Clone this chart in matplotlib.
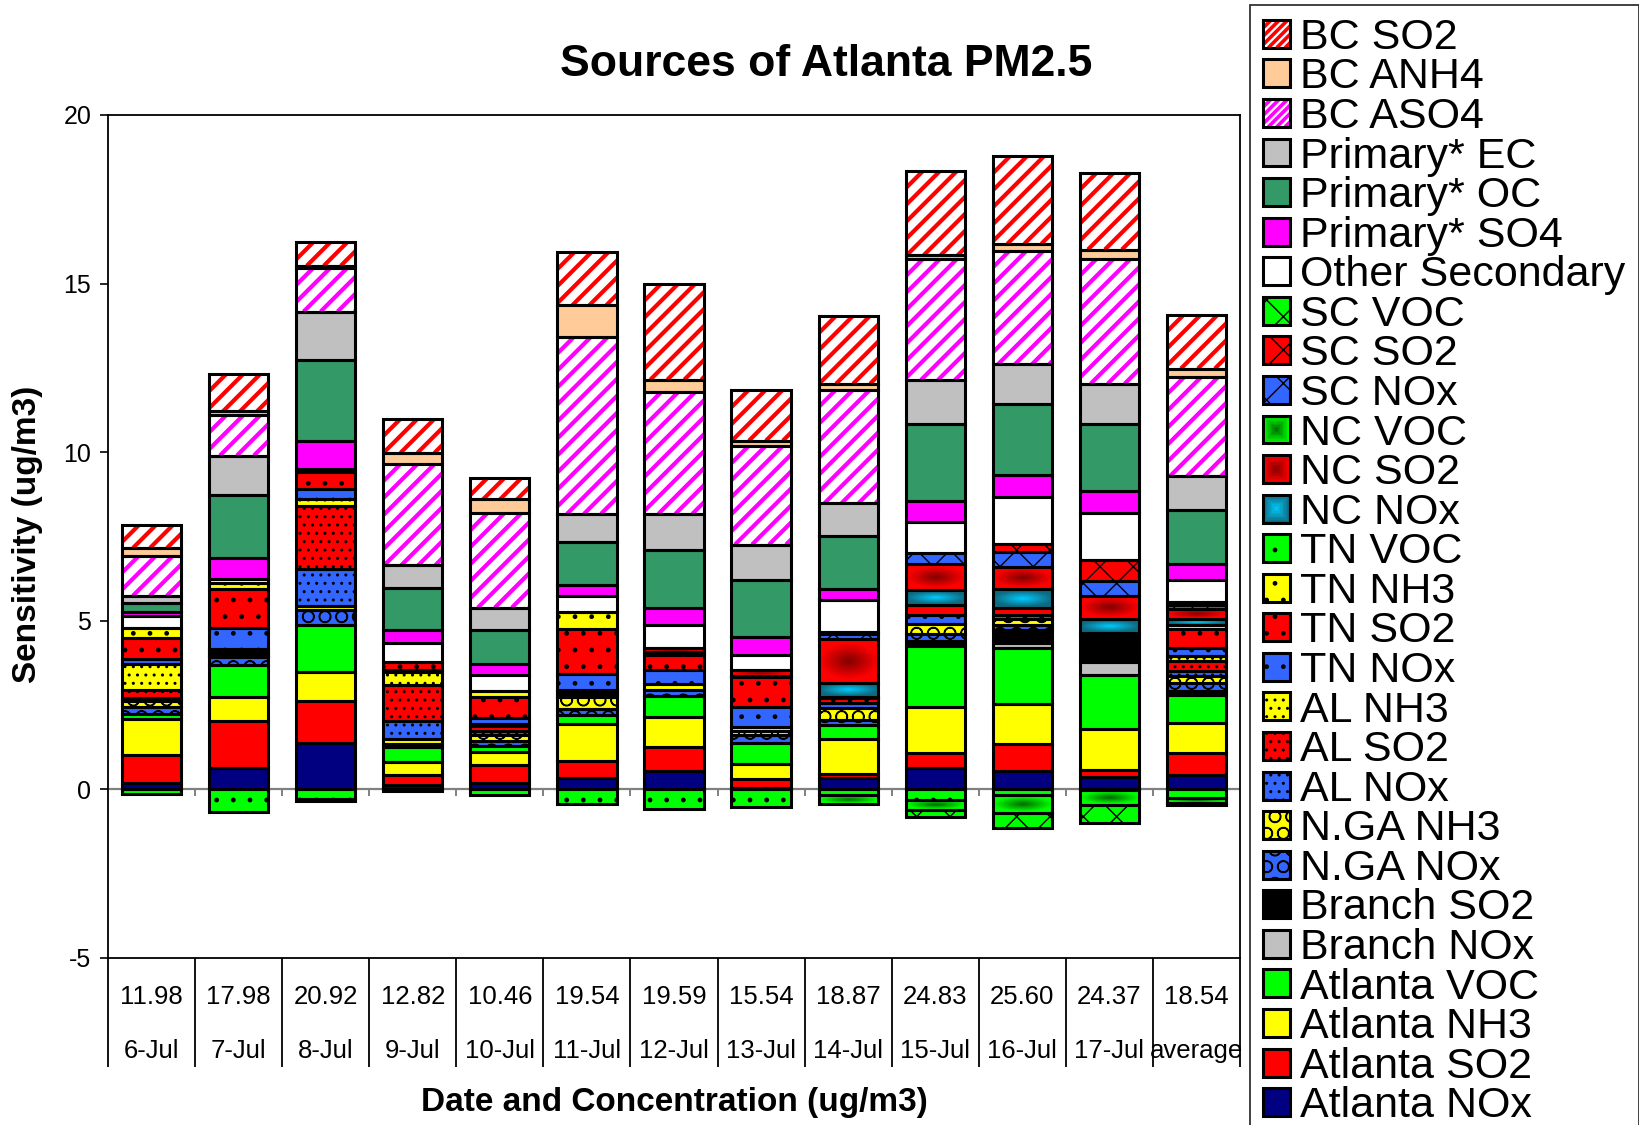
import numpy as np
import matplotlib
matplotlib.use("Agg")
import matplotlib.pyplot as plt
from matplotlib.patches import Patch, Rectangle
from matplotlib.collections import LineCollection
from matplotlib.legend_handler import HandlerTuple, HandlerBase

plt.rcParams['font.family'] = ['Liberation Sans', 'DejaVu Sans']
plt.rcParams['axes.unicode_minus'] = False

# categories
dates = ["6-Jul", "7-Jul", "8-Jul", "9-Jul", "10-Jul", "11-Jul", "12-Jul",
         "13-Jul", "14-Jul", "15-Jul", "16-Jul", "17-Jul", "average"]
concentrations = ["11.98", "17.98", "20.92", "12.82", "10.46", "19.54", "19.59",
                  "15.54", "18.87", "24.83", "25.60", "24.37", "18.54"]

# sensitivities (ug/m3), stacked bottom to top
atlanta_nox = [0.20, 0.64, 1.38, 0.12, 0.20, 0.33, 0.55, 0.05, 0.33, 0.63, 0.56, 0.36, 0.43]
atlanta_so2 = [0.82, 1.40, 1.25, 0.31, 0.51, 0.50, 0.70, 0.26, 0.13, 0.45, 0.80, 0.23, 0.64]
atlanta_nh3 = [1.06, 0.71, 0.84, 0.37, 0.39, 1.12, 0.90, 0.45, 1.03, 1.37, 1.17, 1.19, 0.91]
atlanta_voc = [0.15, 0.93, 1.40, 0.46, 0.20, 0.26, 0.63, 0.63, 0.42, 1.79, 1.66, 1.60, 0.82]
branch_nox = [0, 0, 0, 0, 0, 0, 0, 0, 0, 0, 0.16, 0.40, 0]
branch_so2 = [0, 0, 0, 0, 0, 0, 0, 0, 0, 0.17, 0.37, 0.85, 0.13]
nga_nox = [0.20, 0.24, 0.45, 0.10, 0.13, 0.17, 0.18, 0.21, 0.15, 0.19, 0.16, 0, 0.22]
nga_nh3 = [0.20, 0.03, 0.11, 0.12, 0.18, 0.37, 0, 0.13, 0.35, 0.30, 0.17, 0, 0.20]
al_nox = [0.08, 0.10, 1.12, 0.55, 0.13, 0.05, 0, 0, 0, 0, 0, 0, 0.15]
al_so2 = [0.24, 0.05, 1.85, 1.07, 0.15, 0.08, 0, 0, 0, 0, 0, 0, 0.30]
al_nh3 = [0.77, 0.05, 0.22, 0.39, 0.05, 0.07, 0.18, 0.13, 0, 0, 0, 0, 0.17]
tn_nox = [0.14, 0.65, 0.30, 0.05, 0.17, 0.47, 0.40, 0.57, 0.15, 0.26, 0.12, 0, 0.23]
tn_so2 = [0.62, 1.14, 0.48, 0.25, 0.63, 1.35, 0.44, 0.89, 0.15, 0.32, 0.21, 0, 0.56]
tn_nh3 = [0.30, 0.17, 0, 0, 0.19, 0.50, 0.10, 0.05, 0.03, 0, 0, 0, 0.13]
tn_voc = [-0.13, -0.67, -0.28, -0.05, -0.18, -0.42, -0.59, -0.52, -0.17, -0.30, -0.17, -0.03, -0.26]
nc_nox = [0, 0, 0, 0, 0, 0, 0, 0, 0.43, 0.44, 0.56, 0.41, 0.15]
nc_so2 = [0, 0, 0, 0, 0, 0, 0.10, 0.17, 1.29, 0.75, 0.66, 0.69, 0.32]
nc_voc = [0, 0, -0.05, 0, 0, 0, 0, 0, -0.26, -0.30, -0.53, -0.44, -0.15]
sc_nox = [0, 0, 0, 0, 0, 0, 0, 0, 0.15, 0.35, 0.44, 0.46, 0.12]
sc_so2 = [0, 0, 0, 0, 0, 0, 0, 0, 0.07, 0, 0.23, 0.60, 0.08]
sc_voc = [0, 0, 0, 0, 0, 0, 0, 0, 0, -0.22, -0.44, -0.53, -0.05]
other_secondary = [0.37, 0.13, 0.10, 0.56, 0.45, 0.47, 0.71, 0.46, 0.93, 0.90, 1.39, 1.42, 0.64]
primary_so4 = [0.10, 0.62, 0.83, 0.37, 0.34, 0.31, 0.49, 0.52, 0.32, 0.64, 0.66, 0.64, 0.49]
primary_oc = [0.29, 1.86, 2.39, 1.25, 1.00, 1.29, 1.72, 1.69, 1.59, 2.27, 2.10, 1.99, 1.59]
primary_ec = [0.20, 1.18, 1.45, 0.67, 0.67, 0.83, 1.07, 1.05, 0.97, 1.31, 1.19, 1.19, 1.01]
bc_aso4 = [1.19, 1.19, 1.29, 3.00, 2.80, 5.26, 3.62, 2.92, 3.35, 3.58, 3.37, 3.71, 2.93]
bc_anh4 = [0.23, 0.12, 0.07, 0.34, 0.41, 0.93, 0.36, 0.16, 0.19, 0.12, 0.20, 0.27, 0.26]
bc_so2 = [0.68, 1.10, 0.69, 1.00, 0.63, 1.57, 2.85, 1.50, 2.00, 2.49, 2.59, 2.28, 1.60]

GREEN, RED, BLUE, YELLOW = '#00FF00', '#FF0000', '#3366FF', '#FFFF00'

# (label, values, facecolor, hatch, stripe colour, gradient centre)
series = [
    ("Atlanta NOx", atlanta_nox, '#000080', None, None, None),
    ("Atlanta SO2", atlanta_so2, RED, None, None, None),
    ("Atlanta NH3", atlanta_nh3, YELLOW, None, None, None),
    ("Atlanta VOC", atlanta_voc, GREEN, None, None, None),
    ("Branch NOx", branch_nox, '#C0C0C0', None, None, None),
    ("Branch SO2", branch_so2, 'black', None, None, None),
    ("N.GA NOx", nga_nox, BLUE, 'O', None, None),
    ("N.GA NH3", nga_nh3, YELLOW, 'O', None, None),
    ("AL NOx", al_nox, BLUE, '..', None, None),
    ("AL SO2", al_so2, RED, '..', None, None),
    ("AL NH3", al_nh3, YELLOW, '..', None, None),
    ("TN NOx", tn_nox, BLUE, '.', None, None),
    ("TN SO2", tn_so2, RED, '.', None, None),
    ("TN NH3", tn_nh3, YELLOW, '.', None, None),
    ("TN VOC", tn_voc, GREEN, '.', None, None),
    ("NC NOx", nc_nox, '#0F6A80', None, None, '#00CCFF'),
    ("NC SO2", nc_so2, RED, None, None, '#800000'),
    ("NC VOC", nc_voc, GREEN, None, None, '#006600'),
    ("SC NOx", sc_nox, BLUE, 'x', None, None),
    ("SC SO2", sc_so2, RED, 'x', None, None),
    ("SC VOC", sc_voc, GREEN, 'x', None, None),
    ("Other Secondary", other_secondary, 'white', None, None, None),
    ("Primary* SO4", primary_so4, '#FF00FF', None, None, None),
    ("Primary* OC", primary_oc, '#339966', None, None, None),
    ("Primary* EC", primary_ec, '#C0C0C0', None, None, None),
    ("BC ASO4", bc_aso4, 'white', None, '#FF00FF', None),
    ("BC ANH4", bc_anh4, '#FFCC99', None, None, None),
    ("BC SO2", bc_so2, 'white', None, '#FF0000', None),
]

STRIPE_GAP = 17     # px between stripes, measured horizontally
STRIPE_LW = 3.0     # pt


def mix(c_from, c_to, t):
    a = np.array(matplotlib.colors.to_rgb(c_from))
    b = np.array(matplotlib.colors.to_rgb(c_to))
    return a * (1 - t) + b * t


def gradient(center, edge, n=64):
    u = np.linspace(-1, 1, n)
    U, V = np.meshgrid(u, u)
    t = np.clip(np.hypot(U, V * 1.2), 0, 1)[..., None]
    return mix(center, edge, t)


def stripe_segments(x0, y0, w, h, gap):
    offs = np.arange(-h - gap, w + gap, gap)
    return [[(x0 + o, y0), (x0 + o + h, y0 + h)] for o in offs]


def add_stripes(ax, bar, color):
    t = ax.transData
    (px0, py0), (px1, py1) = t.transform([(bar.get_x(), bar.get_y()),
                                          (bar.get_x() + bar.get_width(),
                                           bar.get_y() + bar.get_height())])
    segs = stripe_segments(px0, py0, px1 - px0, py1 - py0, STRIPE_GAP)
    inv = t.inverted()
    segs = [inv.transform(s) for s in segs]
    lc = LineCollection(segs, colors=color, linewidths=STRIPE_LW, zorder=2.6)
    ax.add_collection(lc, autolim=False)
    lc.set_clip_path(bar)   # after add_collection, which would reset the clip


class StripeHandler(HandlerBase):
    def __init__(self, color):
        super().__init__()
        self.color = color

    def create_artists(self, legend, orig_handle, xdescent, ydescent, width, height,
                       fontsize, trans):
        rect = Rectangle((-xdescent, -ydescent), width, height, facecolor='white',
                         linewidth=0, transform=trans)
        segs = stripe_segments(-xdescent, -ydescent, width, height, width / 3.2)
        lc = LineCollection(segs, colors=self.color, linewidths=2.6, transform=trans)
        lc.set_clip_path(rect)
        edge = Rectangle((-xdescent, -ydescent), width, height, fill=False,
                         edgecolor='black', linewidth=2.2, transform=trans)
        return [rect, lc, edge]


class GradientHandler(HandlerBase):
    # square "from centre" gradient for the legend key
    def __init__(self, center, edge, steps=10):
        super().__init__()
        self.center, self.edge, self.steps = center, edge, steps

    def create_artists(self, legend, orig_handle, xdescent, ydescent, width, height,
                       fontsize, trans):
        arts = []
        for i in range(self.steps):
            f = i / self.steps
            dx, dy = f * width / 2, f * height / 2
            arts.append(Rectangle((-xdescent + dx, -ydescent + dy), width - 2 * dx,
                                  height - 2 * dy, linewidth=0, transform=trans,
                                  facecolor=mix(self.edge, self.center, f)))
        arts.append(Rectangle((-xdescent, -ydescent), width, height, fill=False,
                              edgecolor='black', linewidth=2.2, transform=trans))
        return arts


fig = plt.figure(figsize=(16.4, 11.25), dpi=100)
ax = fig.add_axes([108 / 1640, 1 - 958 / 1125, (1240 - 108) / 1640, (958 - 115) / 1125])

x = np.arange(len(dates))
width = 0.68
ax.set_xlim(-0.5, len(x) - 0.5)
ax.set_ylim(-5, 20)

pos_base = np.zeros(len(x))
neg_base = np.zeros(len(x))
handles = []
handler_map = {tuple: HandlerTuple(ndivide=1, pad=0)}
for label, vals, fc, hatch, stripe, gcenter in series:
    v = np.array(vals, dtype=float)
    bottoms = np.where(v >= 0, pos_base, neg_base)
    keep = v != 0
    bars = ax.bar(x[keep], v[keep], width, bottom=bottoms[keep], color=fc,
                  edgecolor='black', hatch=hatch, linewidth=0, zorder=2)
    if stripe is not None:
        for b in bars:
            add_stripes(ax, b, stripe)
    if gcenter is not None:
        img = gradient(gcenter, fc)
        for xi, bi, vi in zip(x[keep], bottoms[keep], v[keep]):
            ax.imshow(img, extent=[xi - width / 2, xi + width / 2, bi, bi + vi],
                      aspect='auto', interpolation='bilinear', zorder=2.5)
    ax.bar(x[keep], v[keep], width, bottom=bottoms[keep], fill=False,
           edgecolor='black', linewidth=2.2, zorder=3)
    pos_base = pos_base + np.where(v > 0, v, 0)
    neg_base = neg_base + np.where(v < 0, v, 0)

    if stripe is not None:
        h = Patch(facecolor='white')
        handler_map[h] = StripeHandler(stripe)
    elif gcenter is not None:
        h = Patch(facecolor=fc)
        handler_map[h] = GradientHandler(gcenter, fc)
    else:
        face = Patch(facecolor=fc, edgecolor='black', hatch=hatch, linewidth=0)
        outline = Patch(fill=False, edgecolor='black', linewidth=2.2)
        h = (face, outline)
    handles.append((h, label))

ax.set_xlim(-0.5, len(x) - 0.5)
ax.set_ylim(-5, 20)
ax.set_yticks([-5, 0, 5, 10, 15, 20])
ax.tick_params(axis='y', direction='out', length=6, width=1.2, labelsize=18, pad=6)
ax.set_xticks([])
for s in ax.spines.values():
    s.set_linewidth(1.3)
    s.set_color('black')

# category axis at zero
ax.axhline(0, color='#808080', linewidth=1.6, zorder=1)
bounds = np.arange(len(x) + 1) - 0.5
ax.vlines(bounds[1:-1], -0.2, 0, color='#808080', linewidth=1.4, zorder=1)

# two-level category labels below the plot
trans = ax.get_xaxis_transform()
ax.vlines(bounds, -0.129, 0, transform=trans, color='black', linewidth=1.3, clip_on=False)
for xi, c, d in zip(x, concentrations, dates):
    ax.text(xi, -0.0463, c, transform=trans, ha='center', va='center', fontsize=18.5)
    ax.text(xi, -0.110, d, transform=trans, ha='center', va='center', fontsize=18.5)

ax.set_ylabel("Sensitivity (ug/m3)", fontsize=24, fontweight='bold')
ax.yaxis.set_label_coords(-0.0707, 0.502)
ax.yaxis.label.set_verticalalignment('center')
ax.set_xlabel("Date and Concentration (ug/m3)", fontsize=24, fontweight='bold')
ax.xaxis.set_label_coords(0.5, -0.172)
ax.xaxis.label.set_verticalalignment('center')

fig.text(826 / 1640, 1 - 65 / 1125, "Sources of Atlanta PM2.5", ha='center', va='center',
         fontsize=32, fontweight='bold')

handles = handles[::-1]
leg = fig.legend([h for h, _ in handles], [l for _, l in handles],
                 handler_map=handler_map,
                 loc='upper left', bbox_to_anchor=(1250 / 1640, 1 - 5 / 1125),
                 fontsize=31, frameon=True, fancybox=False, borderpad=0.3,
                 labelspacing=-0.01, handlelength=0.62, handleheight=0.62,
                 handletextpad=0.25, borderaxespad=0)
leg.get_frame().set_edgecolor('black')
leg.get_frame().set_linewidth(1.3)

fig.savefig("out.png", dpi=100)
